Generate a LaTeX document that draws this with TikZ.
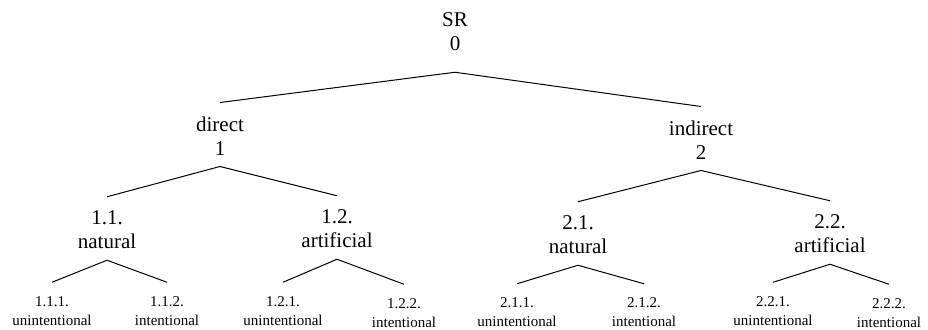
\documentclass[tikz,border=0pt]{standalone}
\usepackage{fontspec}
\setmainfont{Liberation Serif}
\usepackage{tikz}
\tikzset{
	big/.style={align=center, inner sep=0pt, font=\fontsize{21}{24}\selectfont},
	small/.style={align=center, inner sep=0pt, font=\fontsize{15}{19}\selectfont}
}
\def\branch(#1)(#2){\draw[line width=1pt] ([yshift=-11pt]#1.south) -- ([yshift=14pt]#2.north);}

\begin{document}
\begin{tikzpicture}[x=1pt, y=1pt]
			%%%%% START %%%%%
			\useasboundingbox (0, 0) rectangle (928, -329);
			
			\node[big, inner ysep=10pt] (sr) at (455, -32) {SR\\0};
			
			\node[big] (dir) at (220, -136) {direct\\1};
			\node[big] (ind) at (701, -140) {indirect\\2};
			
			\node[big] (nat1) at (107, -230) {1.1.\\natural};
			\node[big] (art1) at (337, -229) {1.2.\\artificial};
			\node[big] (nat2) at (578, -235) {2.1.\\natural};
			\node[big] (art2) at (830, -234) {2.2.\\artificial};
			
			\node[small] (un11) at (52, -311) {1.1.1.\\unintentional};
			\node[small] (in11) at (167, -311) {1.1.2.\\intentional};
			\node[small] (un12) at (283, -311) {1.2.1.\\unintentional};
			\node[small] (in12) at (404, -313) {1.2.2.\\intentional};
			\node[small] (un21) at (517, -312.5) {2.1.1.\\unintentional};
			\node[small] (in21) at (644, -312.5) {2.1.2.\\intentional};
			\node[small] (un22) at (773, -311) {2.2.1.\\unintentional};
			\node[small] (in22) at (889, -313) {2.2.2.\\intentional};
			
			\branch(sr)(dir)
			\branch(sr)(ind)
			
			\branch(dir)(nat1)
			\branch(dir)(art1)
			\branch(ind)(nat2)
			\branch(ind)(art2)
			
			\branch(nat1)(un11)
			\branch(nat1)(in11)
			\branch(art1)(un12)
			\branch(art1)(in12)
			\branch(nat2)(un21)
			\branch(nat2)(in21)
			\branch(art2)(un22)
			\branch(art2)(in22)
			
			%%%%% END %%%%%
\end{tikzpicture}
\end{document}
